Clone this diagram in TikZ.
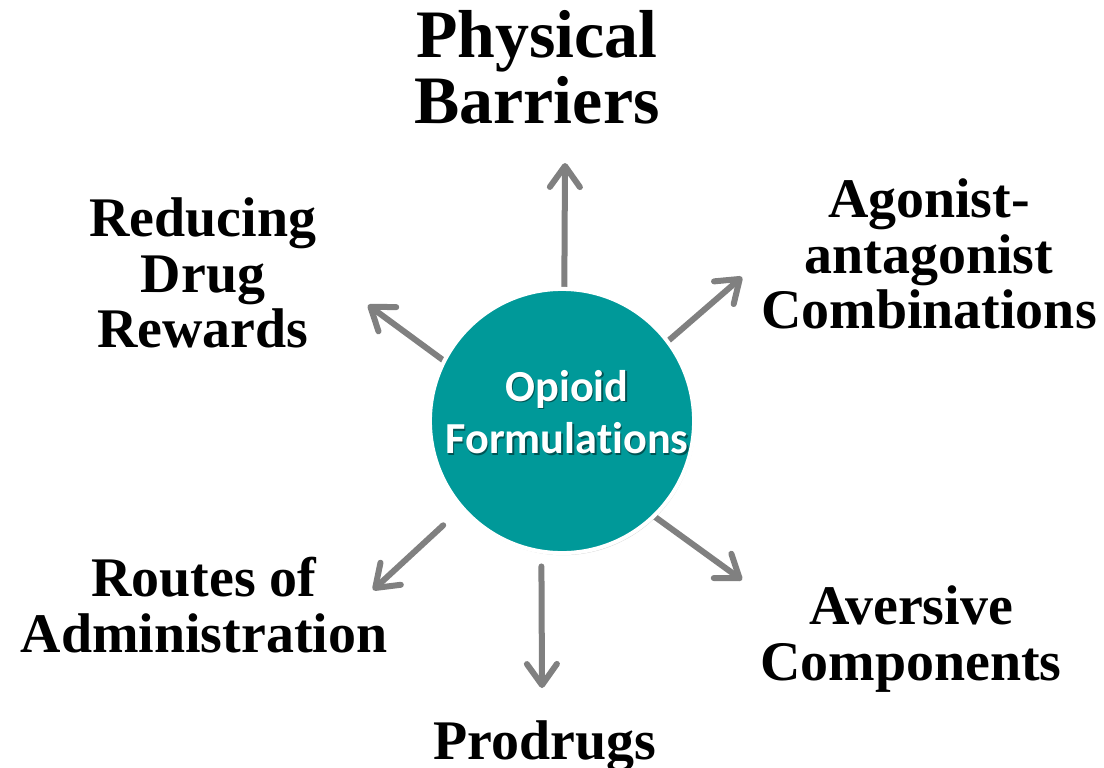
\documentclass[tikz,border=0pt]{standalone}
\usepackage{fontspec}
\setmainfont{Liberation Serif}
\newfontfamily\hubfont[Ligatures=NoCommon]{Carlito}
\usetikzlibrary{arrows.meta,shadows,backgrounds}

\definecolor{hubteal}{RGB}{0,153,153}
\definecolor{spokegray}{RGB}{128,128,128}

\tikzset{
    hub/.style={circle,fill=hubteal,draw=white,line width=0.04cm,minimum size=2.64cm,inner sep=0pt,outer sep=0pt,
        drop shadow={shadow xshift=0.3pt,shadow yshift=-0.6pt,opacity=0.35}},
    hubtext/.style={font=\hubfont\bfseries\fontsize{12.6}{15}\selectfont,text=white,align=center,inner sep=0pt},
    hubshade/.style={hubtext,text=black,opacity=0.45},
    topic/.style={font=\bfseries\fontsize{15.9}{15.8}\selectfont,align=center,inner sep=0pt},
    bigtopic/.style={topic,font=\bfseries\fontsize{19.3}{18.8}\selectfont},
    spoke/.style={spokegray,line width=0.06cm,line cap=round,line join=round,
        -{Straight Barb[length=0.21cm,width=0.3cm,round]}}
}

\begin{document}
\begin{tikzpicture}[x=0.01cm,y=-0.01cm]
    \useasboundingbox (0,0) rectangle (1104,767);

    % centre
    \node[hub] (hub) at (562,421) {};
    \node[hubshade] at (568.5,413.5) {Opioid\\Formulations};
    \node[hubtext] (hubtxt) at (567,412) {Opioid\\Formulations};

    % topics
    \node[bigtopic] (phys)    at (537,67)  {Physical\\Barriers};
    \node[topic]    (reward)  at (203,273) {Reducing\\Drug\\Rewards};
    \node[topic]    (agon)    at (929,254) {Agonist-\\antagonist\\Combinations};
    \node[topic]    (route)   at (204,605) {Routes of\\Administration};
    \node[topic]    (avers)   at (911,639) {Aversive\\Components};
    \node[topic]    (prodrug) at (545,746) {Prodrugs};

    % arrow tips
    \coordinate (physTip)    at (565,163);
    \coordinate (agonTip)    at (742,277);
    \coordinate (rewardTip)  at (368,305);
    \coordinate (routeTip)   at (373,590);
    \coordinate (prodrugTip) at (542,688);
    \coordinate (aversTip)   at (742,580);

    \begin{scope}[on background layer]
        \draw[spoke] (hub.89)  -- (physTip);
        \draw[spoke] (hub.37)  -- (agonTip);
        \draw[spoke] (hub.153) -- (rewardTip);
        \draw[spoke,shorten <=0.26cm] (hub.221) -- (routeTip);
        \draw[spoke,shorten <=0.15cm] (hub.261) -- (prodrugTip);
        \draw[spoke] (hub.314) -- (aversTip);
    \end{scope}
\end{tikzpicture}
\end{document}
